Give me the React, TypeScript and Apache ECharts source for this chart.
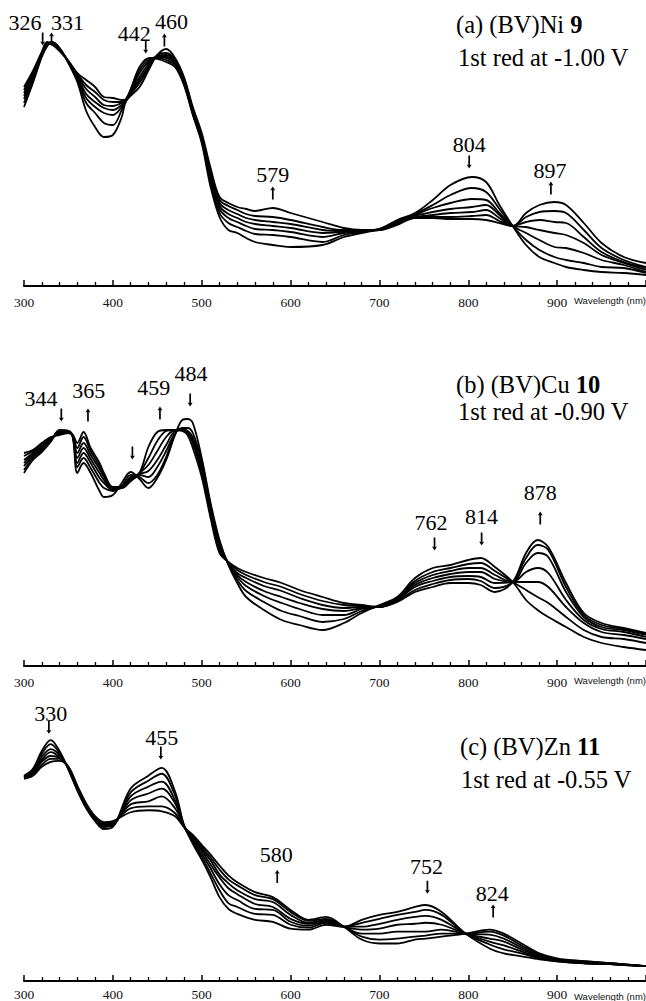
import React, { useEffect, useRef } from "react";
import * as echarts from "echarts";

// ---------- Wavelength grids (nm) ----------
const wlNi = [300,310,320,326,331,340,350,360,370,380,390,400,410,415,430,442,450,460,470,480,490,500,510,520,530,540,550,560,580,600,636,660,680,700,720,740,760,780,804,820,835,850,865,880,897,910,930,950,975,1000];
const wlCu = [300,310,320,330,340,350,355,360,367,375,385,390,400,410,420,430,440,450,460,470,478,484,490,500,510,520,530,540,550,570,590,610,636,660,680,700,720,740,760,780,800,814,830,850,865,878,890,910,930,950,975,1000];
const wlZn = [300,310,320,330,340,350,360,370,380,390,400,420,440,455,470,480,490,500,510,520,530,540,560,580,600,620,640,660,680,700,720,740,752,770,797,824,840,860,880,900,930,960,1000];

// ---------- Absorbance (a.u.), scans 1 (start) .. 7 (end of reduction) ----------
const niScan1 = [198,214,233,243,241,234,224,212,205,198,188,187,185,186,218,227,226,223,218,200,170,142,98,68,55,52,47,43,40,38,40,48,52,56,65,72,85,100,108,103,80,59,40,28,22,18,15,13,12,10];
const niScan2 = [195,212,232,242,241,235,224,211,200,193,185,183,183,186,215,226,227,225,220,201,171,144,102,72,62,58,54,51,50,48,43,50,53,56,64,71,80,90,97,93,76,59,45,35,28,25,22,18,17,12];
const niScan3 = [192,210,231,241,242,235,223,210,196,188,180,179,182,185,212,225,228,227,222,203,173,146,105,76,67,63,59,56,55,53,48,52,53,56,63,70,77,82,86,85,72,59,52,45,38,37,32,25,20,13];
const niScan4 = [189,208,230,240,242,236,223,209,191,183,177,175,180,185,208,223,228,228,223,204,174,148,108,79,71,67,63,61,59,57,52,53,54,56,62,69,73,76,78,80,70,59,58,55,52,50,42,30,22,15];
const niScan5 = [186,206,229,240,242,236,223,207,187,178,172,170,178,185,205,221,229,230,224,205,175,149,111,82,75,71,67,65,63,61,55,54,54,55,62,68,70,72,73,75,67,59,63,65,63,62,48,33,23,17];
const niScan6 = [182,204,229,239,243,237,222,205,182,172,162,160,175,185,202,220,230,232,225,207,176,150,114,85,79,75,71,69,68,65,58,55,55,55,61,68,68,68,69,70,64,59,68,73,74,72,55,37,25,18];
const niScan7 = [178,202,228,239,243,237,222,203,174,158,148,150,168,184,198,218,230,236,227,208,178,152,117,88,82,78,76,74,77,72,63,57,55,55,60,67,67,66,66,65,62,59,72,80,83,80,62,42,28,22];

const cuScan1 = [190,203,211,221,233,232,225,190,200,190,172,166,168,180,191,184,175,185,203,228,243,244,240,205,160,123,98,80,66,53,43,38,33,40,50,58,66,85,95,98,103,105,96,81,63,53,46,36,26,20,16,13];
const cuScan2 = [193,205,213,222,232,232,226,196,205,195,180,175,172,177,188,186,180,188,206,229,235,235,230,202,157,121,99,83,72,61,52,47,41,44,52,57,65,82,91,95,99,100,92,81,73,66,60,46,33,26,24,20];
const cuScan3 = [197,207,215,223,231,231,226,200,210,200,185,180,173,176,186,188,186,196,212,230,234,232,226,199,154,119,99,86,77,67,60,54,48,48,54,57,64,80,88,92,95,95,88,81,81,81,76,56,40,31,28,24];
const cuScan4 = [200,209,216,224,230,231,227,205,215,204,190,183,174,175,184,189,192,203,218,232,233,232,224,196,152,117,100,88,81,72,66,60,54,52,55,57,63,78,85,89,91,91,84,81,91,95,90,63,43,34,31,26];
const cuScan5 = [203,210,217,224,230,231,227,210,220,208,194,186,174,175,183,190,198,212,226,233,233,231,222,193,150,115,100,90,85,77,72,65,58,55,56,56,63,76,82,86,87,86,80,81,100,110,106,71,46,36,33,28];
const cuScan6 = [207,212,219,225,229,230,228,215,226,212,197,188,175,175,182,190,205,222,232,233,233,230,220,190,148,112,101,93,88,81,76,69,62,58,57,56,62,73,79,83,84,82,75,81,105,118,113,76,48,38,34,29];
const cuScan7 = [210,213,220,226,228,230,228,220,231,215,200,190,176,176,182,190,216,231,233,233,232,228,215,186,145,110,101,95,91,85,80,73,66,60,58,56,61,71,76,80,80,78,71,81,110,123,116,80,50,40,35,30];

const znScan1 = [207,214,232,243,232,213,192,174,161,153,155,194,207,215,191,157,138,122,104,84,72,67,61,59,52,51,56,54,61,66,69,74,76,69,47,32,27,24,21,19,17,16,14];
const znScan2 = [206,212,229,239,230,214,193,175,162,155,156,190,202,209,187,157,140,125,108,91,78,74,67,66,56,53,58,54,58,62,66,69,71,66,47,36,31,27,22,19,17,16,14];
const znScan3 = [206,211,226,234,228,214,194,176,163,156,157,186,196,201,182,156,141,128,113,97,86,81,72,71,59,55,59,54,54,57,61,64,65,61,47,39,35,29,23,20,18,16,14];
const znScan4 = [205,210,223,231,226,215,195,177,164,157,158,182,189,194,179,156,143,131,117,104,93,87,77,74,62,57,60,54,51,52,56,57,58,56,47,42,39,31,24,20,18,16,14];
const znScan5 = [205,209,221,227,225,215,195,177,164,158,159,178,181,186,174,156,144,133,121,107,98,91,82,79,66,58,61,54,47,47,49,49,49,51,47,46,42,33,25,21,18,17,14];
const znScan6 = [204,208,218,224,224,216,196,178,165,159,160,174,176,176,169,155,146,135,124,112,102,96,86,82,69,60,62,54,44,41,42,44,45,47,47,49,45,35,26,21,19,17,14];
const znScan7 = [204,207,216,221,222,216,197,179,166,160,161,170,172,171,166,155,147,137,127,116,106,99,89,84,71,61,64,54,41,37,37,41,42,44,47,51,47,37,27,22,19,17,14];

// ---------- Peak annotations: label [nm, abs], arrow [nm, abs], direction ----------
const niPeaks = [
  { text: "326", label: [301, 263], arrow: [321, 246], up: false },
  { text: "331", label: [349, 263], arrow: [331, 246], up: true },
  { text: "442", label: [424, 252], arrow: [437, 238], up: false },
  { text: "460", label: [466, 264], arrow: [458, 245], up: true },
  { text: "579", label: [580, 111], arrow: [580, 92], up: true },
  { text: "804", label: [801, 141], arrow: [801, 123], up: false },
  { text: "897", label: [892, 115], arrow: [893, 97], up: true },
];
const cuPeaks = [
  { text: "344", label: [319, 265], arrow: [342, 248], up: false },
  { text: "365", label: [373, 273], arrow: [372, 248], up: true },
  { text: "", label: [422, 230], arrow: [422, 210], up: false },
  { text: "459", label: [446, 276], arrow: [453, 250], up: true },
  { text: "484", label: [488, 290], arrow: [487, 263], up: false },
  { text: "762", label: [758, 141], arrow: [762, 119], up: false },
  { text: "814", label: [815, 147], arrow: [815, 124], up: false },
  { text: "878", label: [881, 171], arrow: [881, 145], up: true },
];
const znPeaks = [
  { text: "330", label: [330, 270], arrow: [328, 256], up: false },
  { text: "455", label: [455, 246], arrow: [454, 230], up: false },
  { text: "580", label: [584, 127], arrow: [585, 105], up: true },
  { text: "752", label: [753, 115], arrow: [754, 94], up: false },
  { text: "824", label: [827, 88], arrow: [828, 70], up: true },
];

const xTicks = [300, 400, 500, 600, 700, 800, 900];

const SERIF = '"Liberation Serif", "Times New Roman", serif';
const SANS = '"Liberation Sans", Arial, sans-serif';
const ARROW = "path://M5 0 L10 9 L6.7 8 L6.7 30 L3.3 30 L3.3 8 L0 9 Z";
const TITLE_FONT = `24.5px ${SERIF}`;
const TITLE_BOLD = `bold 24.5px ${SERIF}`;

type Peak = { text: string; label: number[]; arrow: number[]; up: boolean };

const panels = [
  { wl: wlNi, scans: [niScan1, niScan2, niScan3, niScan4, niScan5, niScan6, niScan7], peaks: niPeaks,
    grid: { top: 0, height: 286 }, yMin: -1, yMax: 285, labelMargin: 9,
    title1: "(a) (BV)Ni ", bold: "9", title2: "1st red at -1.00 V", t1: [456, 24], t2: [458, 57], wlY: 300 },
  { wl: wlCu, scans: [cuScan1, cuScan2, cuScan3, cuScan4, cuScan5, cuScan6, cuScan7], peaks: cuPeaks,
    grid: { top: 330, height: 336 }, yMin: -3, yMax: 333, labelMargin: 9,
    title1: "(b) (BV)Cu ", bold: "10", title2: "1st red at -0.90 V", t1: [456, 384], t2: [458, 411], wlY: 680 },
  { wl: wlZn, scans: [znScan1, znScan2, znScan3, znScan4, znScan5, znScan6, znScan7], peaks: znPeaks,
    grid: { top: 680, height: 305 }, yMin: -1, yMax: 304, labelMargin: 6,
    title1: "(c) (BV)Zn ", bold: "11", title2: "1st red at -0.55 V", t1: [460, 746], t2: [461, 779], wlY: 996 },
];

function measure(text: string, font: string): number {
  const c = document.createElement("canvas").getContext("2d");
  if (!c) return text.length * 11;
  c.font = font;
  return c.measureText(text).width;
}

export default function App() {
  const ref = useRef<HTMLDivElement>(null);
  useEffect(() => {
    if (!ref.current) return;
    const chart = echarts.init(ref.current, null, { renderer: "svg" });
    const grids: any[] = [];
    const xAxes: any[] = [];
    const yAxes: any[] = [];
    const series: any[] = [];
    const graphics: any[] = [];
    panels.forEach((p, gi) => {
      grids.push({ left: 24, width: 623, top: p.grid.top, height: p.grid.height });
      xAxes.push({
        type: "value", gridIndex: gi, min: 300, max: 1000, interval: 100,
        axisLine: { onZero: false, lineStyle: { color: "#000", width: 2 } },
        axisTick: { inside: true, length: 6, lineStyle: { color: "#000", width: 1.5 } },
        minorTick: { show: true, splitNumber: 5, length: 4, lineStyle: { color: "#000", width: 1.3 } },
        splitLine: { show: false },
        axisLabel: {
          margin: p.labelMargin, fontFamily: SERIF, fontSize: 13.5, color: "#111",
          showMaxLabel: false,
          formatter: (v: number) => (xTicks.indexOf(v) >= 0 ? String(v) : ""),
        },
      });
      yAxes.push({ type: "value", gridIndex: gi, min: p.yMin, max: p.yMax, show: false });
      p.scans.forEach((s) => {
        series.push({
          type: "line", xAxisIndex: gi, yAxisIndex: gi, silent: true,
          data: p.wl.map((w, i) => [w, s[i]]),
          symbol: "none", smooth: 0.35,
          lineStyle: { color: "#000", width: 1.8 },
        });
      });
      series.push({
        type: "scatter", xAxisIndex: gi, yAxisIndex: gi, silent: true, clip: false,
        symbol: ARROW, symbolSize: [5, 13],
        itemStyle: { color: "#000", opacity: 1 },
        data: (p.peaks as Peak[]).map((k) => ({ value: k.arrow, symbolRotate: k.up ? 0 : 180 })),
      });
      series.push({
        type: "scatter", xAxisIndex: gi, yAxisIndex: gi, silent: true, clip: false,
        symbolSize: 1, itemStyle: { color: "rgba(0,0,0,0)", opacity: 1 },
        label: {
          show: true, position: "inside", formatter: "{b}", fontFamily: SERIF, fontSize: 22,
          color: "#000", opacity: 1, textBorderWidth: 0,
        },
        data: (p.peaks as Peak[]).filter((k) => k.text).map((k) => ({ name: k.text, value: k.label })),
      });
      const w1 = measure(p.title1, TITLE_FONT);
      graphics.push({
        type: "text", x: p.t1[0], y: p.t1[1], silent: true,
        style: { text: p.title1, fill: "#000", font: TITLE_FONT, verticalAlign: "middle" },
      });
      graphics.push({
        type: "text", x: p.t1[0] + w1, y: p.t1[1], silent: true,
        style: { text: p.bold, fill: "#000", font: TITLE_BOLD, verticalAlign: "middle" },
      });
      graphics.push({
        type: "text", x: p.t2[0], y: p.t2[1], silent: true,
        style: { text: p.title2, fill: "#000", font: TITLE_FONT, verticalAlign: "middle" },
      });
      graphics.push({
        type: "text", x: 574, y: p.wlY, silent: true,
        style: { text: "Wavelength (nm)", fill: "#111", font: `9.5px ${SANS}`, verticalAlign: "middle" },
      });
    });
    chart.setOption({
      animation: false,
      backgroundColor: "#fff",
      grid: grids,
      xAxis: xAxes,
      yAxis: yAxes,
      series,
      graphic: graphics,
    });
    return () => chart.dispose();
  }, []);
  return (
    <div
      ref={ref}
      style={{ position: "absolute", left: 0, top: 0, width: 646, height: 1001 }}
    />
  );
}
